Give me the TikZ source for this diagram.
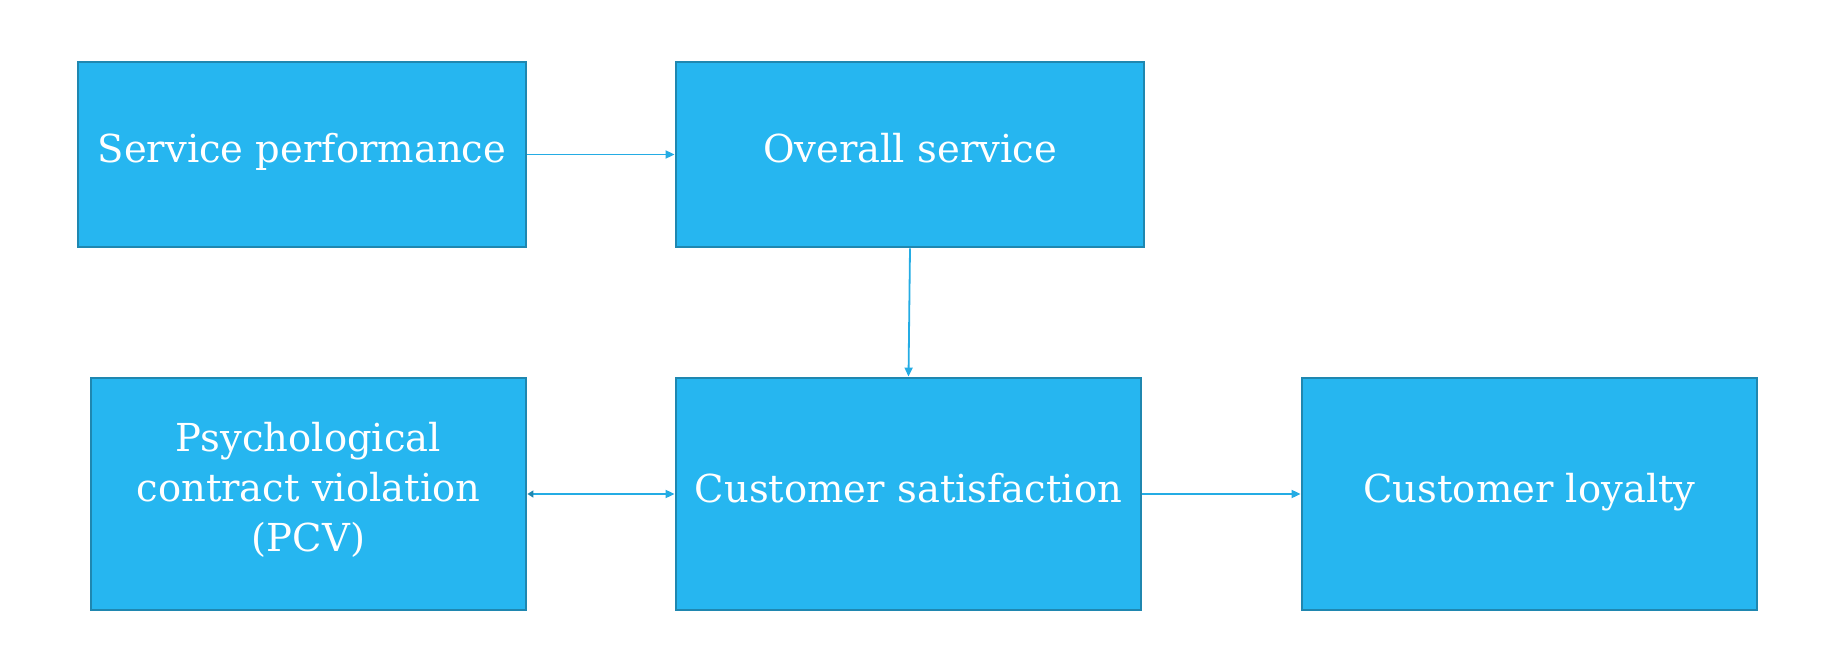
\documentclass[tikz,border=0pt]{standalone}
\usepackage{fontspec}
\setmainfont{DejaVu Serif}
\usetikzlibrary{arrows.meta}
\definecolor{boxfill}{RGB}{38,182,240}
\definecolor{boxline}{RGB}{31,135,176}
\definecolor{conn}{RGB}{36,172,228}
\tikzset{
  blk/.style={rectangle, fill=boxfill, draw=boxline, line width=2.8pt, text=white,
    align=center, inner sep=0pt, font=\fontsize{38.5}{50}\selectfont},
  oneline/.style={text height=30pt, text depth=14pt},
  link/.style={draw=conn, line width=1.8pt, -{Triangle[length=9pt,width=8pt]}},
}
\begin{document}
\begin{tikzpicture}[x=1pt,y=-1pt]
\useasboundingbox (0,0) rectangle (1828,666);
\node[blk, oneline, minimum width=448pt, minimum height=185pt] (sp) at (302,154.5) {Service performance};
\node[blk, oneline, minimum width=468pt, minimum height=185pt] (os) at (910,154.5) {Overall service};
\node[blk, text depth=14pt, minimum width=435pt, minimum height=232pt] (pcv) at (308.5,494) {Psychological\\contract violation\\(PCV)};
\node[blk, oneline, minimum width=465pt, minimum height=232pt] (cs) at (908.5,494) {Customer satisfaction};
\node[blk, oneline, minimum width=455pt, minimum height=232pt] (cl) at (1529.5,494) {Customer loyalty};
\draw[link] (sp.east) -- (os.west);
\draw[link] (os.south) -- (cs.north);
\draw[link, {Triangle[length=6pt,width=7pt,color=boxline]}-{Triangle[length=9pt,width=8pt]}] (pcv.east) -- (cs.west);
\draw[link] (cs.east) -- (cl.west);
\end{tikzpicture}
\end{document}
